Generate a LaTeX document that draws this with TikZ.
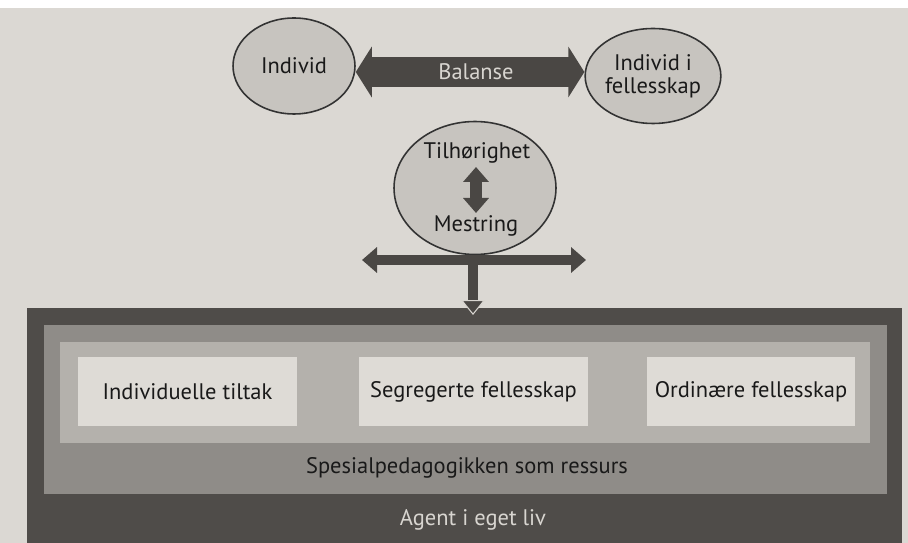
\documentclass[tikz,border=0pt]{standalone}
\usepackage{fontspec}
\setmainfont{PT Sans}
\usetikzlibrary{shapes.geometric, arrows.meta, positioning}

\definecolor{papir}{HTML}{DBD8D3}
\definecolor{sirkelfyll}{HTML}{C7C4BF}
\definecolor{pilfarge}{HTML}{4A4744}
\definecolor{mork}{HTML}{4F4C49}
\definecolor{midt}{HTML}{8F8C88}
\definecolor{lys}{HTML}{B4B1AC}
\definecolor{boksfyll}{HTML}{DEDBD6}
\definecolor{lystekst}{HTML}{D8D5D0}

\tikzset{
  ring/.style={draw=black!80, line width=0.9pt, ellipse, fill=sirkelfyll, inner sep=0pt, align=center},
  lag/.style={rectangle, inner sep=0pt},
  tykkpil/.style={draw=pilfarge, line width=#1}
}

\begin{document}
\begin{tikzpicture}[x=0.02cm, y=-0.02cm, every node/.style={font=\fontsize{12.8}{15}\selectfont, text=black!90}]
  % Hintergrund
  \useasboundingbox (0,0) rectangle (908,543);
  \fill[white] (0,0) rectangle (908,8);
  \fill[papir] (0,8) rectangle (908,543);

  % Ellipsen oben
  \node[ring, minimum width=2.44cm, minimum height=1.92cm] (indiv) at (294,66) {Individ};
  \node[ring, minimum width=2.34cm, minimum height=1.9cm] (felles) at (653,76) {Individ i\\[-2pt]fellesskap};
  \coordinate (bal) at (476,72);

  % Balanse-Pfeil
  \draw[tykkpil=0.6cm, {Triangle[length=0.32cm,width=1cm]}-{Triangle[length=0.32cm,width=1cm]}]
    (bal -| indiv.east) -- (bal -| felles.west);
  \node[text=lystekst] (balanse) at (bal) {Balanse};

  % Tilhoerighet / Mestring
  \node[ring, minimum width=3.24cm, minimum height=2.66cm] (tm) at (475,188) {};
  \node (tilh) at (477,153) {Tilhørighet};
  \node (mest) at (476,226) {Mestring};
  \coordinate (opp) at (476,167);
  \coordinate (under) at (476,213);
  \draw[tykkpil=0.24cm, {Triangle[length=0.3cm,width=0.5cm]}-{Triangle[length=0.3cm,width=0.5cm]}]
    (opp) -- (under);

  % Schichten unten
  \node[lag, fill=mork, minimum width=17.5cm, minimum height=4.7cm] (agent) at (464.5,425.5) {};
  \node[lag, fill=midt, minimum width=16.86cm, minimum height=3.38cm] (ressurs) at (465.5,409.5) {};
  \node[lag, fill=lys, minimum width=16.2cm, minimum height=2.02cm] (felt) at (465,392.5) {};

  % Boxen
  \node[lag, fill=boksfyll, minimum width=4.38cm, minimum height=1.38cm] (indtilt) at (187.5,391.5) {Individuelle tiltak};
  \node[lag, fill=boksfyll, minimum width=4.58cm, minimum height=1.38cm] (segr) at (473.5,391.5) {Segregerte fellesskap};
  \node[lag, fill=boksfyll, minimum width=4.16cm, minimum height=1.38cm] (ordi) at (751,391.5) {Ordinære fellesskap};

  \node (spes) at (467,468) {Spesialpedagogikken som ressurs};
  \node[text=lystekst] (agenttekst) at (473,520) {Agent i eget liv};

  % Pfeile unter der Ellipse
  \coordinate (kryss) at (473,260);
  \coordinate (venstre) at (362,260);
  \coordinate (hoyre) at (586,260);
  \coordinate (ned) at (473,315);
  \draw[tykkpil=0.2cm, {Triangle[length=0.3cm,width=0.5cm]}-{Triangle[length=0.3cm,width=0.5cm]}]
    (venstre) -- (hoyre);
  \draw[tykkpil=0.2cm, -{Triangle[length=0.3cm,width=0.48cm,color=lystekst,fill=pilfarge,line width=0.6pt]}] (kryss) -- (ned);
\end{tikzpicture}
\end{document}
